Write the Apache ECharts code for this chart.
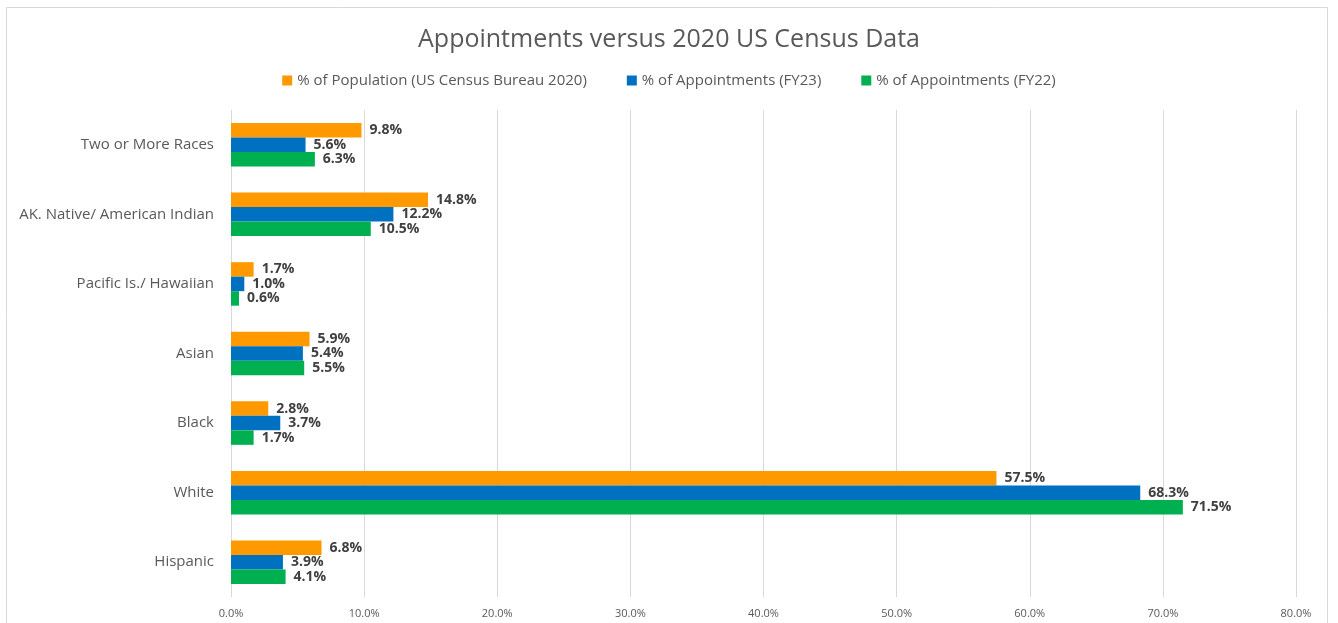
<!DOCTYPE html>
<html>
<head>
<meta charset="utf-8">
<script src="https://cdn.jsdelivr.net/npm/echarts@6/dist/echarts.min.js"></script>
<style>
  html, body { margin: 0; padding: 0; background: #fff; }
  #chart { width: 1338px; height: 623px; }
</style>
</head>
<body>
<div id="chart"></div>
<script>
// categories listed bottom -> top
const categories = ['Hispanic', 'White', 'Black', 'Asian', 'Pacific Is./ Hawaiian', 'AK. Native/ American Indian', 'Two or More Races']
const population2020 = [6.8, 57.5, 2.8, 5.9, 1.7, 14.8, 9.8]
const appointmentsFY23 = [3.9, 68.3, 3.7, 5.4, 1.0, 12.2, 5.6]
const appointmentsFY22 = [4.1, 71.5, 1.7, 5.5, 0.6, 10.5, 6.3]
const seriesNames = ['% of Population (US Census Bureau 2020)', '% of Appointments (FY23)', '% of Appointments (FY22)']

const font = 'Open Sans, Noto Sans, sans-serif'
const chart = echarts.init(document.getElementById('chart'))

const barLabel = {
  show: true,
  position: 'right',
  distance: 8,
  formatter: (p) => p.value.toFixed(1) + '%',
  color: '#404040',
  fontWeight: 'bold',
  fontSize: 14,
  fontFamily: font
}

const makeSeries = (name, data, color) => ({
  name: name,
  type: 'bar',
  data: data,
  barWidth: 14.5,
  barGap: '0%',
  itemStyle: { color: color },
  label: barLabel
})

const options = {
  animation: false,
  title: {
    text: 'Appointments versus 2020 US Census Data',
    left: 'center',
    top: 22,
    textStyle: { fontFamily: font, fontSize: 25, fontWeight: 'normal', color: '#595959' }
  },
  legend: {
    data: seriesNames,
    top: 68,
    left: 'center',
    itemWidth: 10,
    itemHeight: 10,
    itemGap: 40,
    icon: 'rect',
    textStyle: { fontFamily: font, fontSize: 15, color: '#595959' }
  },
  grid: { left: 231, right: 42, top: 110, bottom: 26 },
  xAxis: {
    type: 'value',
    min: 0,
    max: 80,
    interval: 10,
    axisLine: { show: false },
    axisTick: { show: false },
    splitLine: { lineStyle: { color: '#d9d9d9', width: 1 } },
    axisLabel: {
      formatter: (v) => v.toFixed(1) + '%',
      color: '#595959',
      fontSize: 11,
      fontFamily: font,
      margin: 11
    }
  },
  yAxis: {
    type: 'category',
    data: categories,
    axisLine: { show: false },
    axisTick: { show: false },
    axisLabel: { color: '#595959', fontSize: 15, fontFamily: font, margin: 17 }
  },
  graphic: [{
    type: 'rect',
    shape: { x: 6.5, y: 7.5, width: 1321, height: 640 },
    style: { fill: 'none', stroke: '#d9d9d9', lineWidth: 1 },
    silent: true
  }],
  series: [
    makeSeries(seriesNames[0], population2020, '#FF9900'),
    makeSeries(seriesNames[1], appointmentsFY23, '#0070C0'),
    makeSeries(seriesNames[2], appointmentsFY22, '#00B050')
  ]
}

chart.setOption(options)
window.onresize = () => { chart.resize() }
</script>
</body>
</html>
